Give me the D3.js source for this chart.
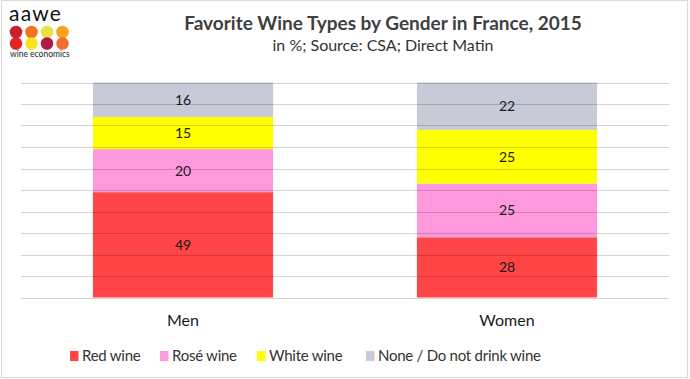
<!DOCTYPE html>
<html><head><meta charset="utf-8">
<script src="https://cdn.jsdelivr.net/npm/d3@7"></script>
<style>body{margin:0;background:#fff}svg{display:block}text{font-family:Lato,"Open Sans",sans-serif}</style>
</head><body><svg id="c" width="690" height="379"></svg>
<script>
const categories = ["Men", "Women"];
const seriesNames = ["Red wine", "Rosé wine", "White wine", "None / Do not drink wine"];
const redWine = [49, 28];
const roseWine = [20, 25];
const whiteWine = [15, 25];
const noneWine = [16, 22];
const colors = ["#FF4545", "#FF99DD", "#FFFF00", "#C7CBD7"];
const yTicks = [0,10,20,30,40,50,60,70,80,90,100];

const svg = d3.select("#c");
svg.append("rect").attr("x",1.5).attr("y",0.5).attr("width",686).attr("height",377).attr("fill","#fff").attr("stroke","#d9d9d9");

const x = d3.scaleBand().domain(categories).range([21,669]).paddingInner(0.444).paddingOuter(0.222);
const y = d3.scaleLinear().domain([0,100]).range([297.5,82.5]);

const data = categories.map((c,i)=>({cat:c, "Red wine":redWine[i], "Rosé wine":roseWine[i], "White wine":whiteWine[i], "None / Do not drink wine":noneWine[i]}));
const stack = d3.stack().keys(seriesNames)(data);

const g = svg.append("g");
stack.forEach((s,si)=>{
  g.selectAll(null).data(s).enter().append("rect")
    .attr("x",d=>x(d.data.cat)).attr("width",x.bandwidth())
    .attr("y",d=>y(d[1])).attr("height",d=>y(d[0])-y(d[1]))
    .attr("fill",colors[si]);
});
svg.append("g").selectAll("line").data(yTicks).enter().append("line")
  .attr("x1",21).attr("x2",669).attr("y1",d=>Math.round(y(d))+0.5).attr("y2",d=>Math.round(y(d))+0.5)
  .attr("stroke","#000").attr("stroke-opacity",0.17).attr("stroke-width",1);

stack.forEach((s,si)=>{
  g.selectAll(null).data(s).enter().append("text")
    .attr("x",d=>x(d.data.cat)+x.bandwidth()/2).attr("y",d=>(y(d[0])+y(d[1]))/2)
    .attr("dy","0.36em").attr("text-anchor","middle").attr("font-size",14).attr("fill","#1a1a1a")
    .text(d=>d[1]-d[0]);
});

svg.append("g").selectAll("text").data(categories).enter().append("text")
  .attr("x",d=>x(d)+x.bandwidth()/2).attr("y",326).attr("text-anchor","middle")
  .attr("font-size",16).attr("fill","#1a1a1a").text(d=>d);

svg.append("text").attr("x",383).attr("y",30).attr("text-anchor","middle").attr("font-size",19)
  .attr("font-weight","bold").attr("fill","#404040").text("Favorite Wine Types by Gender in France, 2015");
svg.append("text").attr("x",383).attr("y",51).attr("text-anchor","middle").attr("font-size",16)
  .attr("fill","#333").text("in %; Source: CSA; Direct Matin");

const legX = [70, 160, 257, 366];
const leg = svg.append("g").selectAll("g").data(seriesNames).enter().append("g")
  .attr("transform",(d,i)=>`translate(${legX[i]},356)`);
leg.append("rect").attr("x",0).attr("y",-5).attr("width",8.5).attr("height",10).attr("fill",(d,i)=>colors[i]);
leg.append("text").attr("x",12).attr("y",0).attr("dy","0.36em").attr("font-size",15).attr("letter-spacing","-0.25").attr("fill","#333").text(d=>d);

svg.append("text").attr("x",9).attr("y",21).attr("font-size",21).attr("letter-spacing","1.2").attr("fill","#111").attr("font-family","Liberation Sans, sans-serif").text("aawe");
const dotColors = [["#C8202C","#F07424","#E8E246","#F8A21E"],["#E42424","#F8E41C","#B0184A","#F06E2E"]];
dotColors.forEach((row,ri)=>row.forEach((c,ci)=>{
  svg.append("circle").attr("cx",16+ci*15.5).attr("cy",32+ri*11.5).attr("r",6.3).attr("fill",c);
}));
svg.append("text").attr("x",10).attr("y",57).attr("font-size",8.5).attr("fill","#222").attr("font-family","DejaVu Serif, serif").text("wine economics");
</script></body></html>
